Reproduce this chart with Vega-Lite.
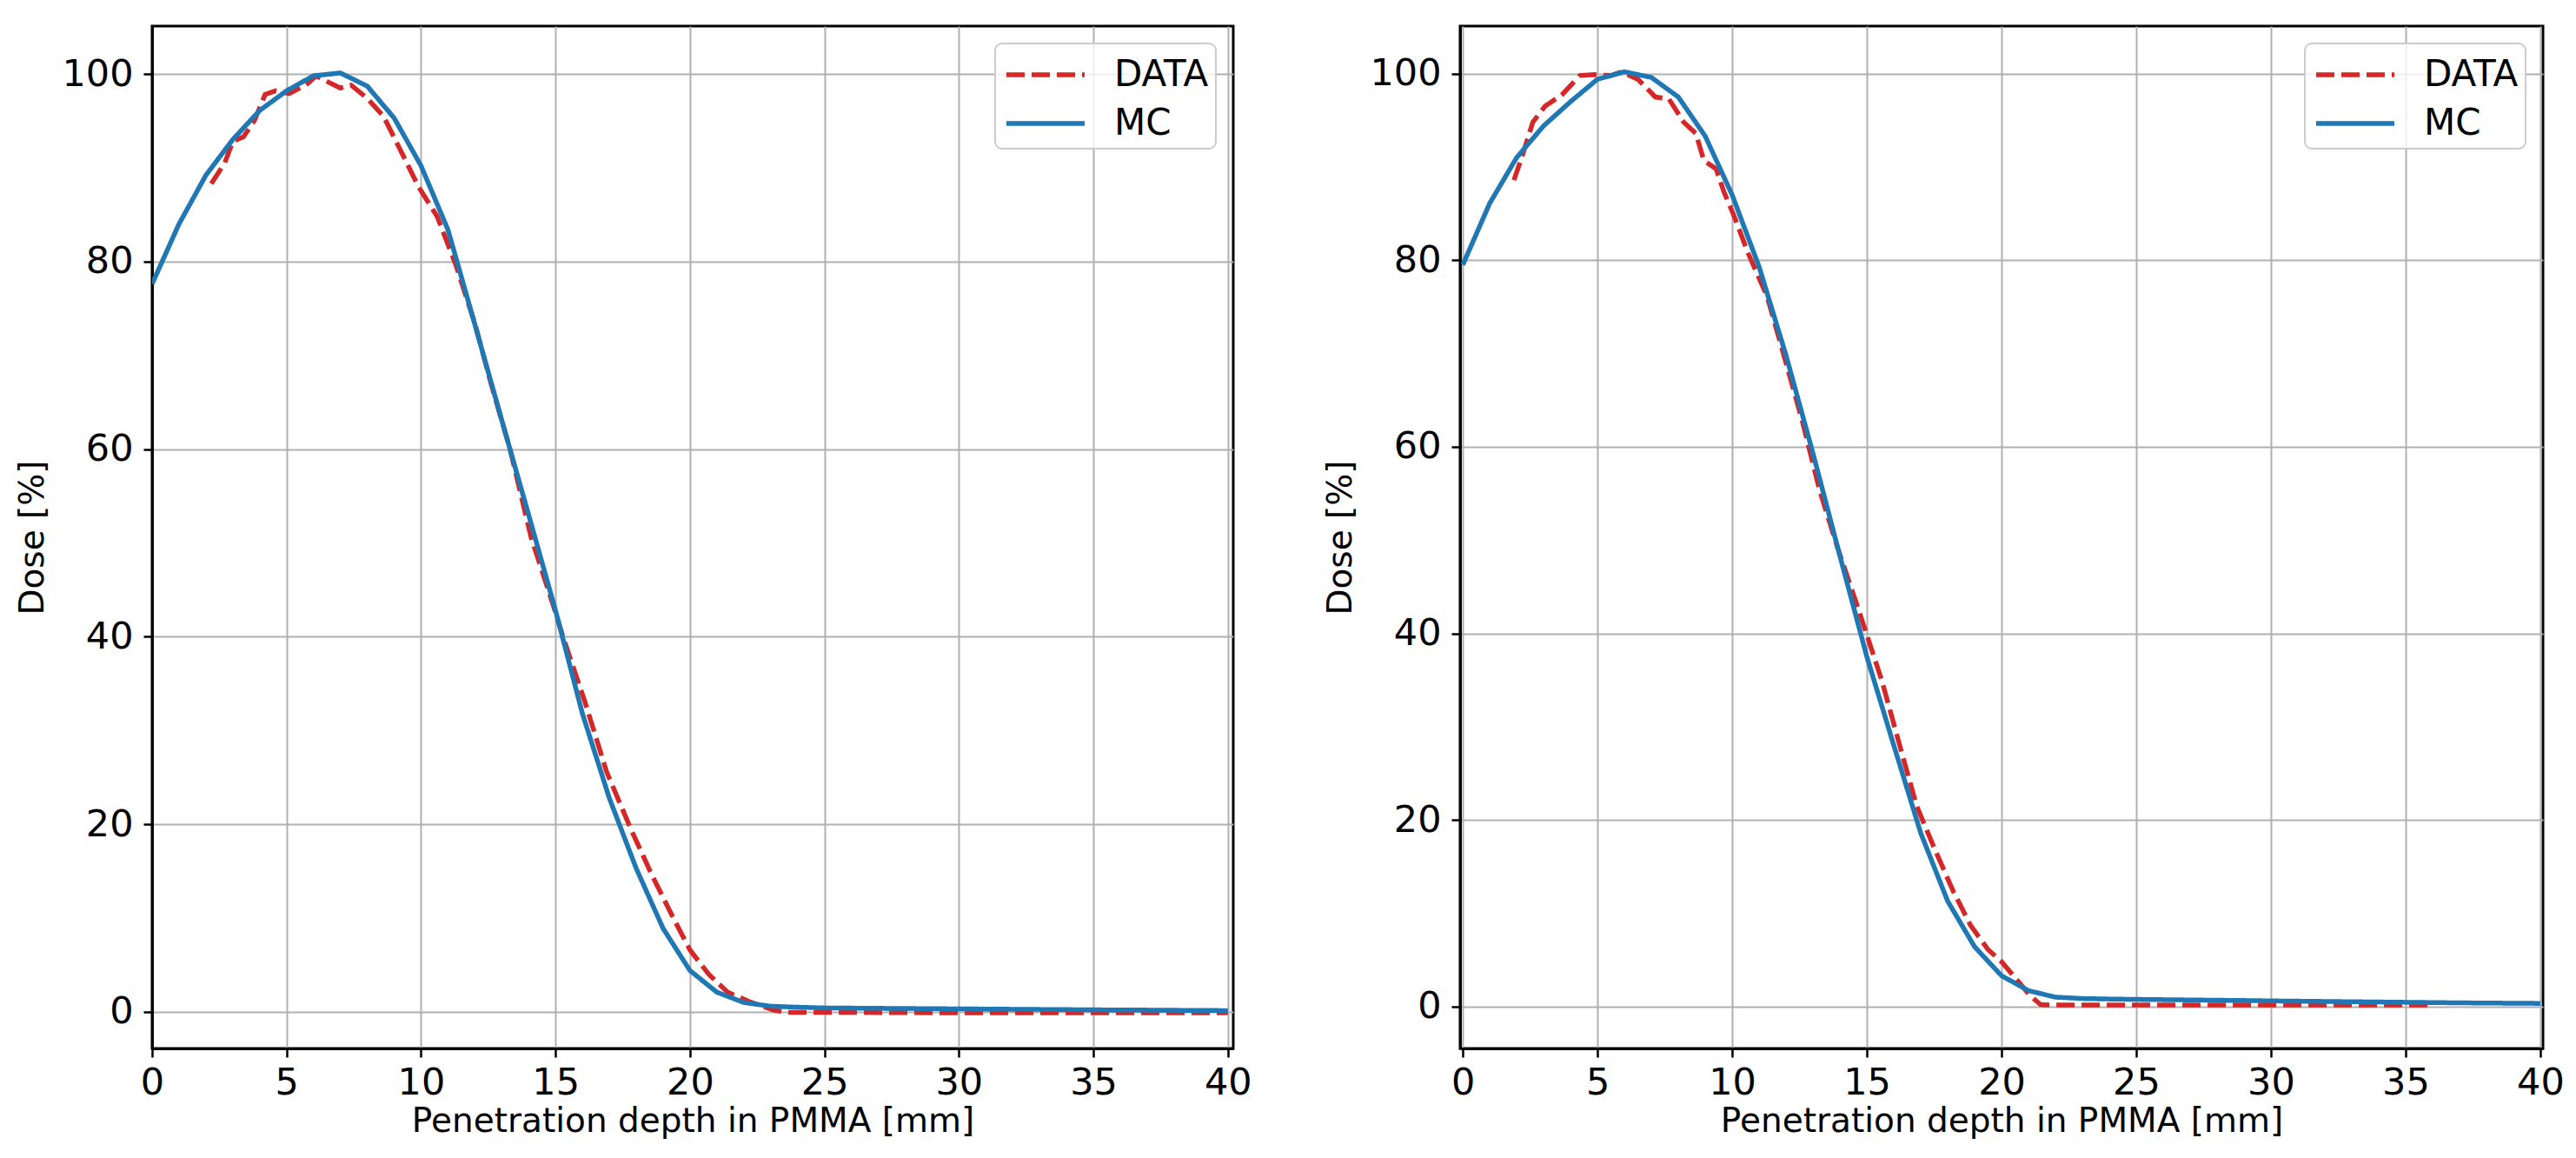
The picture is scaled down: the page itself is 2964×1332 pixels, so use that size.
{
  "$schema": "https://vega.github.io/schema/vega-lite/v6.json",
  "padding": {"left": 17, "top": 28, "right": 0, "bottom": 0},
  "background": "white",
  "datasets": {
    "left": [
      {"series": "DATA", "depth": 2.2, "dose": 88.3},
      {"series": "DATA", "depth": 2.7, "dose": 90.5},
      {"series": "DATA", "depth": 3.0, "dose": 92.8},
      {"series": "DATA", "depth": 3.4, "dose": 93.3},
      {"series": "DATA", "depth": 3.8, "dose": 95.0},
      {"series": "DATA", "depth": 4.2, "dose": 97.8},
      {"series": "DATA", "depth": 4.6, "dose": 98.2},
      {"series": "DATA", "depth": 5.1, "dose": 97.9},
      {"series": "DATA", "depth": 5.5, "dose": 98.5},
      {"series": "DATA", "depth": 5.8, "dose": 99.0},
      {"series": "DATA", "depth": 6.1, "dose": 99.8},
      {"series": "DATA", "depth": 6.5, "dose": 99.2},
      {"series": "DATA", "depth": 7.0, "dose": 98.5},
      {"series": "DATA", "depth": 7.4, "dose": 98.8},
      {"series": "DATA", "depth": 8.0, "dose": 97.4},
      {"series": "DATA", "depth": 8.6, "dose": 95.5},
      {"series": "DATA", "depth": 9.3, "dose": 91.5},
      {"series": "DATA", "depth": 9.9, "dose": 88.0},
      {"series": "DATA", "depth": 10.6, "dose": 84.8},
      {"series": "DATA", "depth": 11.3, "dose": 79.6},
      {"series": "DATA", "depth": 12.0, "dose": 73.4},
      {"series": "DATA", "depth": 12.6, "dose": 67.0},
      {"series": "DATA", "depth": 13.3, "dose": 60.1},
      {"series": "DATA", "depth": 14.1, "dose": 50.5},
      {"series": "DATA", "depth": 14.9, "dose": 43.5},
      {"series": "DATA", "depth": 15.3, "dose": 39.8},
      {"series": "DATA", "depth": 16.1, "dose": 33.0},
      {"series": "DATA", "depth": 16.9, "dose": 25.6},
      {"series": "DATA", "depth": 17.8, "dose": 19.5},
      {"series": "DATA", "depth": 18.6, "dose": 14.5},
      {"series": "DATA", "depth": 19.4, "dose": 9.9},
      {"series": "DATA", "depth": 20.0, "dose": 6.6},
      {"series": "DATA", "depth": 20.7, "dose": 4.0},
      {"series": "DATA", "depth": 21.4, "dose": 2.1},
      {"series": "DATA", "depth": 22.2, "dose": 1.1},
      {"series": "DATA", "depth": 23.1, "dose": 0.2},
      {"series": "DATA", "depth": 23.6, "dose": -0.05},
      {"series": "DATA", "depth": 25.0, "dose": -0.05},
      {"series": "DATA", "depth": 30.0, "dose": -0.1},
      {"series": "DATA", "depth": 35.0, "dose": -0.1},
      {"series": "DATA", "depth": 40.0, "dose": -0.1},
      {"series": "MC", "depth": 0, "dose": 77.6},
      {"series": "MC", "depth": 1, "dose": 84.0},
      {"series": "MC", "depth": 2, "dose": 89.2},
      {"series": "MC", "depth": 3, "dose": 93.0},
      {"series": "MC", "depth": 4, "dose": 96.1},
      {"series": "MC", "depth": 5, "dose": 98.2},
      {"series": "MC", "depth": 6, "dose": 99.8},
      {"series": "MC", "depth": 7, "dose": 100.1},
      {"series": "MC", "depth": 8, "dose": 98.7},
      {"series": "MC", "depth": 9, "dose": 95.3},
      {"series": "MC", "depth": 10, "dose": 90.2},
      {"series": "MC", "depth": 11, "dose": 83.4},
      {"series": "MC", "depth": 12, "dose": 73.3},
      {"series": "MC", "depth": 13, "dose": 63.1},
      {"series": "MC", "depth": 14, "dose": 53.0},
      {"series": "MC", "depth": 15, "dose": 42.8},
      {"series": "MC", "depth": 16, "dose": 31.8},
      {"series": "MC", "depth": 17, "dose": 22.8},
      {"series": "MC", "depth": 18, "dose": 15.3},
      {"series": "MC", "depth": 19, "dose": 8.9},
      {"series": "MC", "depth": 20, "dose": 4.4},
      {"series": "MC", "depth": 21, "dose": 2.1},
      {"series": "MC", "depth": 22, "dose": 1.0},
      {"series": "MC", "depth": 23, "dose": 0.6},
      {"series": "MC", "depth": 24, "dose": 0.5},
      {"series": "MC", "depth": 25, "dose": 0.42},
      {"series": "MC", "depth": 26, "dose": 0.4},
      {"series": "MC", "depth": 27, "dose": 0.38},
      {"series": "MC", "depth": 28, "dose": 0.36},
      {"series": "MC", "depth": 29, "dose": 0.34},
      {"series": "MC", "depth": 30, "dose": 0.32},
      {"series": "MC", "depth": 31, "dose": 0.3},
      {"series": "MC", "depth": 32, "dose": 0.28},
      {"series": "MC", "depth": 33, "dose": 0.26},
      {"series": "MC", "depth": 34, "dose": 0.24},
      {"series": "MC", "depth": 35, "dose": 0.22},
      {"series": "MC", "depth": 36, "dose": 0.2},
      {"series": "MC", "depth": 37, "dose": 0.19},
      {"series": "MC", "depth": 38, "dose": 0.17},
      {"series": "MC", "depth": 39, "dose": 0.15},
      {"series": "MC", "depth": 40, "dose": 0.14}
    ],
    "right": [
      {"series": "DATA", "depth": 1.9, "dose": 88.6},
      {"series": "DATA", "depth": 2.2, "dose": 91.1},
      {"series": "DATA", "depth": 2.6, "dose": 94.8},
      {"series": "DATA", "depth": 3.05, "dose": 96.5},
      {"series": "DATA", "depth": 3.7, "dose": 97.8},
      {"series": "DATA", "depth": 4.35, "dose": 99.8},
      {"series": "DATA", "depth": 4.9, "dose": 99.9},
      {"series": "DATA", "depth": 5.5, "dose": 99.8},
      {"series": "DATA", "depth": 5.9, "dose": 100.2},
      {"series": "DATA", "depth": 6.5, "dose": 99.4},
      {"series": "DATA", "depth": 7.15, "dose": 97.5},
      {"series": "DATA", "depth": 7.65, "dose": 97.3},
      {"series": "DATA", "depth": 8.2, "dose": 94.8},
      {"series": "DATA", "depth": 8.65, "dose": 93.6},
      {"series": "DATA", "depth": 8.95, "dose": 90.7},
      {"series": "DATA", "depth": 9.4, "dose": 89.8},
      {"series": "DATA", "depth": 9.7, "dose": 87.3},
      {"series": "DATA", "depth": 10.05, "dose": 84.9},
      {"series": "DATA", "depth": 10.6, "dose": 80.7},
      {"series": "DATA", "depth": 11.3, "dose": 76.1},
      {"series": "DATA", "depth": 11.95, "dose": 69.5},
      {"series": "DATA", "depth": 12.6, "dose": 62.8},
      {"series": "DATA", "depth": 13.25, "dose": 55.3},
      {"series": "DATA", "depth": 13.9, "dose": 49.3},
      {"series": "DATA", "depth": 14.65, "dose": 42.9},
      {"series": "DATA", "depth": 15.55, "dose": 35.0},
      {"series": "DATA", "depth": 16.2, "dose": 28.2},
      {"series": "DATA", "depth": 16.85, "dose": 21.5},
      {"series": "DATA", "depth": 17.5, "dose": 17.0},
      {"series": "DATA", "depth": 18.2, "dose": 12.4},
      {"series": "DATA", "depth": 18.85, "dose": 8.7},
      {"series": "DATA", "depth": 19.5, "dose": 6.1},
      {"series": "DATA", "depth": 20.0, "dose": 4.8},
      {"series": "DATA", "depth": 20.5, "dose": 3.1},
      {"series": "DATA", "depth": 21.05, "dose": 1.2},
      {"series": "DATA", "depth": 21.45, "dose": 0.2},
      {"series": "DATA", "depth": 22.0, "dose": 0.15},
      {"series": "DATA", "depth": 25.0, "dose": 0.15},
      {"series": "DATA", "depth": 30.0, "dose": 0.15},
      {"series": "DATA", "depth": 35.9, "dose": 0.15},
      {"series": "MC", "depth": 0, "dose": 79.5},
      {"series": "MC", "depth": 1, "dose": 86.1},
      {"series": "MC", "depth": 2, "dose": 91.0},
      {"series": "MC", "depth": 3, "dose": 94.4},
      {"series": "MC", "depth": 4, "dose": 97.0},
      {"series": "MC", "depth": 5, "dose": 99.4},
      {"series": "MC", "depth": 6, "dose": 100.2},
      {"series": "MC", "depth": 7, "dose": 99.6},
      {"series": "MC", "depth": 8, "dose": 97.5},
      {"series": "MC", "depth": 9, "dose": 93.3},
      {"series": "MC", "depth": 10, "dose": 87.0},
      {"series": "MC", "depth": 11, "dose": 79.3},
      {"series": "MC", "depth": 12, "dose": 69.8},
      {"series": "MC", "depth": 13, "dose": 59.3},
      {"series": "MC", "depth": 14, "dose": 48.3},
      {"series": "MC", "depth": 15, "dose": 37.5},
      {"series": "MC", "depth": 16, "dose": 28.0},
      {"series": "MC", "depth": 17, "dose": 18.6},
      {"series": "MC", "depth": 18, "dose": 11.3},
      {"series": "MC", "depth": 19, "dose": 6.4},
      {"series": "MC", "depth": 20, "dose": 3.3},
      {"series": "MC", "depth": 21, "dose": 1.7},
      {"series": "MC", "depth": 22, "dose": 1.0},
      {"series": "MC", "depth": 23, "dose": 0.85},
      {"series": "MC", "depth": 24, "dose": 0.8},
      {"series": "MC", "depth": 25, "dose": 0.76},
      {"series": "MC", "depth": 26, "dose": 0.73},
      {"series": "MC", "depth": 27, "dose": 0.7},
      {"series": "MC", "depth": 28, "dose": 0.67},
      {"series": "MC", "depth": 29, "dose": 0.64},
      {"series": "MC", "depth": 30, "dose": 0.6},
      {"series": "MC", "depth": 31, "dose": 0.57},
      {"series": "MC", "depth": 32, "dose": 0.54},
      {"series": "MC", "depth": 33, "dose": 0.51},
      {"series": "MC", "depth": 34, "dose": 0.48},
      {"series": "MC", "depth": 35, "dose": 0.45},
      {"series": "MC", "depth": 36, "dose": 0.42},
      {"series": "MC", "depth": 37, "dose": 0.39},
      {"series": "MC", "depth": 38, "dose": 0.37},
      {"series": "MC", "depth": 39, "dose": 0.35},
      {"series": "MC", "depth": 40, "dose": 0.33}
    ]
  },
  "hconcat": [
    {
      "data": {"name": "left"},
      "width": 1244,
      "height": 1176,
      "encoding": {
        "x": {
          "field": "depth",
          "type": "quantitative",
          "title": "Penetration depth in PMMA [mm]",
          "scale": {"domain": [0, 40.2], "nice": false, "zero": false},
          "axis": {"values": [0, 5, 10, 15, 20, 25, 30, 35, 40]}
        },
        "y": {
          "field": "dose",
          "type": "quantitative",
          "title": "Dose [%]",
          "scale": {"domain": [-3.9, 105.1], "nice": false, "zero": false},
          "axis": {"values": [0, 20, 40, 60, 80, 100]}
        },
        "color": {
          "field": "series",
          "type": "nominal",
          "scale": {"domain": ["DATA", "MC"], "range": ["#d62728", "#1f77b4"]}
        },
        "strokeDash": {
          "field": "series",
          "type": "nominal",
          "scale": {"domain": ["DATA", "MC"], "range": [[21, 8], [1, 0]]}
        }
      },
      "layer": [
        {
          "transform": [{"filter": "datum.series == 'DATA'"}],
          "mark": {"type": "line", "strokeWidth": 5.5, "clip": true}
        },
        {
          "transform": [{"filter": "datum.series == 'MC'"}],
          "mark": {"type": "line", "strokeWidth": 5.5, "clip": true}
        }
      ]
    },
    {
      "data": {"name": "right"},
      "width": 1246,
      "height": 1176,
      "encoding": {
        "x": {
          "field": "depth",
          "type": "quantitative",
          "title": "Penetration depth in PMMA [mm]",
          "scale": {"domain": [-0.1, 40.1], "nice": false, "zero": false},
          "axis": {"values": [0, 5, 10, 15, 20, 25, 30, 35, 40]}
        },
        "y": {
          "field": "dose",
          "type": "quantitative",
          "title": "Dose [%]",
          "scale": {"domain": [-4.5, 105.1], "nice": false, "zero": false},
          "axis": {"values": [0, 20, 40, 60, 80, 100]}
        },
        "color": {
          "field": "series",
          "type": "nominal",
          "scale": {"domain": ["DATA", "MC"], "range": ["#d62728", "#1f77b4"]}
        },
        "strokeDash": {
          "field": "series",
          "type": "nominal",
          "scale": {"domain": ["DATA", "MC"], "range": [[21, 8], [1, 0]]}
        }
      },
      "layer": [
        {
          "transform": [{"filter": "datum.series == 'DATA'"}],
          "mark": {"type": "line", "strokeWidth": 5.5, "clip": true}
        },
        {
          "transform": [{"filter": "datum.series == 'MC'"}],
          "mark": {"type": "line", "strokeWidth": 5.5, "clip": true}
        }
      ]
    }
  ],
  "spacing": 80,
  "resolve": {
    "scale": {"color": "independent", "strokeDash": "independent"},
    "legend": {"color": "independent", "strokeDash": "independent"}
  },
  "config": {
    "font": "DejaVu Sans",
    "view": {"stroke": "black", "strokeWidth": 3},
    "axis": {
      "labelFont": "DejaVu Sans",
      "titleFont": "DejaVu Sans",
      "labelFontSize": 43,
      "titleFontSize": 39,
      "titleFontWeight": "normal",
      "labelColor": "black",
      "titleColor": "black",
      "domainColor": "black",
      "domainWidth": 3,
      "tickColor": "black",
      "tickWidth": 2.5,
      "tickSize": 10,
      "grid": true,
      "gridColor": "#b0b0b0",
      "gridWidth": 2,
      "gridOpacity": 1,
      "labelFlush": false,
      "labelOverlap": false
    },
    "axisX": {"labelPadding": 8, "titlePadding": 3},
    "axisY": {"labelPadding": 12, "titlePadding": 13},
    "legend": {
      "orient": "top-right",
      "offset": 20,
      "title": null,
      "labelFont": "DejaVu Sans",
      "labelFontSize": 42,
      "labelColor": "black",
      "labelLimit": 0,
      "symbolType": "M-0.92,0H2.68",
      "symbolSize": 2500,
      "symbolStrokeWidth": 5.5,
      "labelOffset": 73,
      "padding": 8,
      "rowPadding": 7,
      "fillColor": "rgba(255,255,255,0.8)",
      "strokeColor": "#cccccc",
      "strokeWidth": 2,
      "cornerRadius": 8
    }
  }
}
